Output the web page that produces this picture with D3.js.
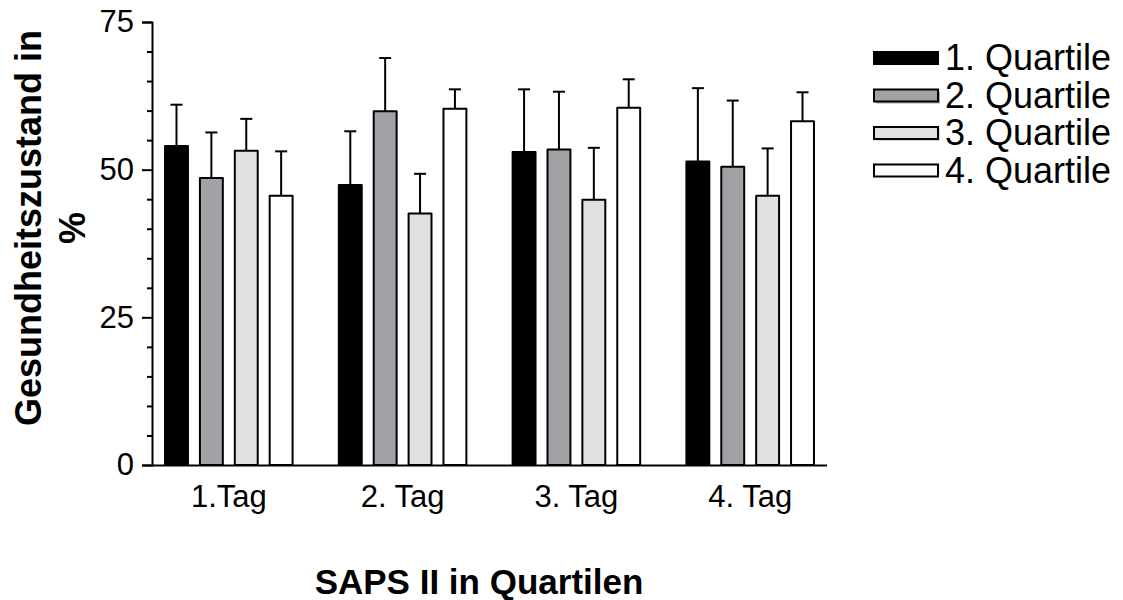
<!DOCTYPE html>
<html>
<head>
<meta charset="utf-8">
<script src="https://cdn.jsdelivr.net/npm/d3@7"></script>
<style>
  body { margin: 0; background: #fff; }
  svg { display: block; font-family: "Liberation Sans", Arial, sans-serif; }
</style>
</head>
<body>
<svg id="chart" width="1123" height="600"></svg>
<script>
// data
const days = ['1.Tag', '2. Tag', '3. Tag', '4. Tag'];
const quartiles = ['1. Quartile', '2. Quartile', '3. Quartile', '4. Quartile'];
const colors = ['#000000', '#a2a1a6', '#e0e0e0', '#ffffff'];
// mean per day, one array per quartile
const q1Mean = [54.0, 47.4, 53.0, 51.4];
const q2Mean = [48.6, 59.9, 53.4, 50.5];
const q3Mean = [53.2, 42.6, 44.9, 45.6];
const q4Mean = [45.6, 60.3, 60.5, 58.2];
// upper end of the error bar
const q1Upper = [61.0, 56.5, 63.6, 63.8];
const q2Upper = [56.3, 68.9, 63.2, 61.7];
const q3Upper = [58.6, 49.3, 53.7, 53.6];
const q4Upper = [53.1, 63.6, 65.3, 63.1];
const yTicks = [0, 25, 50, 75];

const means = [q1Mean, q2Mean, q3Mean, q4Mean];
const uppers = [q1Upper, q2Upper, q3Upper, q4Upper];

const svg = d3.select('#chart');
const mLeft = 152, mRight = 827, mTop = 22, mBottom = 465;
const FONT = '"Liberation Sans", Arial, sans-serif';

const x0 = d3.scaleBand().domain(days).range([mLeft, mRight])
  .paddingInner(0.266).paddingOuter(0.075);
const x1 = d3.scaleBand().domain(d3.range(4)).range([0, x0.bandwidth()])
  .paddingInner(0.343).paddingOuter(0);
const y = d3.scaleLinear().domain([0, 75]).range([mBottom, mTop]);

// flatten into bar records
const bars = [];
days.forEach((d, i) => {
  quartiles.forEach((q, k) => {
    bars.push({ day: d, k, mean: means[k][i], upper: uppers[k][i] });
  });
});

const g = svg.append('g');
const cx = d => x0(d.day) + x1(d.k) + x1.bandwidth() / 2;

// error bars (drawn first, bars go over them)
const err = g.selectAll('.err').data(bars).enter().append('g').attr('class', 'err')
  .attr('stroke', '#000').attr('stroke-width', 2);
err.append('line')
  .attr('x1', cx).attr('x2', cx)
  .attr('y1', d => y(d.mean))
  .attr('y2', d => y(d.upper));
err.append('line')
  .attr('x1', d => cx(d) - 6).attr('x2', d => cx(d) + 6)
  .attr('y1', d => y(d.upper))
  .attr('y2', d => y(d.upper));

g.selectAll('.bar').data(bars).enter().append('rect').attr('class', 'bar')
  .attr('x', d => x0(d.day) + x1(d.k))
  .attr('y', d => y(d.mean))
  .attr('width', x1.bandwidth())
  .attr('height', d => y(0) - y(d.mean))
  .attr('fill', d => colors[d.k])
  .attr('stroke', '#000')
  .attr('stroke-width', 2)
  .attr('stroke-linejoin', 'round');

// y axis
const yAxis = svg.append('g').attr('transform', `translate(${mLeft},0)`)
  .call(d3.axisLeft(y).tickValues(yTicks).tickSize(10).tickPadding(8));
svg.append('g').attr('transform', `translate(${mLeft},0)`)
  .call(d3.axisLeft(y).tickValues(d3.range(5, 75, 5).filter(v => v % 25 !== 0))
    .tickSize(5).tickFormat(''))
  .call(a => a.select('.domain').remove());
svg.selectAll('.tick line').attr('stroke-width', 2);
yAxis.select('.domain').attr('stroke-width', 2);
yAxis.selectAll('text')
  .attr('font-size', 31).attr('fill', '#000').attr('font-family', FONT);

// x axis
const xAxis = svg.append('g').attr('transform', `translate(0,${mBottom})`)
  .call(d3.axisBottom(x0).tickSize(0).tickPadding(20));
xAxis.select('.domain').attr('d', `M${mLeft},0.5H${mRight}`).attr('stroke-width', 2);
xAxis.selectAll('text')
  .attr('font-size', 31).attr('fill', '#000').attr('font-family', FONT);

// axis titles
svg.append('text')
  .attr('x', 479).attr('y', 594)
  .attr('text-anchor', 'middle')
  .attr('font-size', 35).attr('font-weight', 'bold')
  .text('SAPS II in Quartilen');

const yt = svg.append('text')
  .attr('transform', 'translate(41,228) rotate(-90)')
  .attr('text-anchor', 'middle')
  .attr('font-size', 36).attr('font-weight', 'bold');
yt.append('tspan').attr('x', 0).attr('y', 0).text('Gesundheitszustand in');
yt.append('tspan').attr('x', 0).attr('y', 44).text('%');

// legend
const legend = svg.append('g').attr('transform', 'translate(874,58)');
const item = legend.selectAll('.item').data(quartiles).enter().append('g')
  .attr('class', 'item')
  .attr('transform', (d, i) => `translate(0,${i * 37.5})`);
item.filter((d, i) => i === 1 || i === 2).append('rect')
  .attr('x', 2).attr('y', -4).attr('width', 64).attr('height', 12)
  .attr('fill', (d, i) => i === 0 ? '#a9a9ac' : '#d7d7d7');
item.append('rect')
  .attr('x', 0).attr('y', -6).attr('width', 64).attr('height', 12)
  .attr('fill', (d, i) => colors[i])
  .attr('stroke', '#000').attr('stroke-width', 2);
item.append('text')
  .attr('x', 71).attr('y', 12)
  .attr('font-size', 36)
  .text(d => d);
</script>
</body>
</html>
